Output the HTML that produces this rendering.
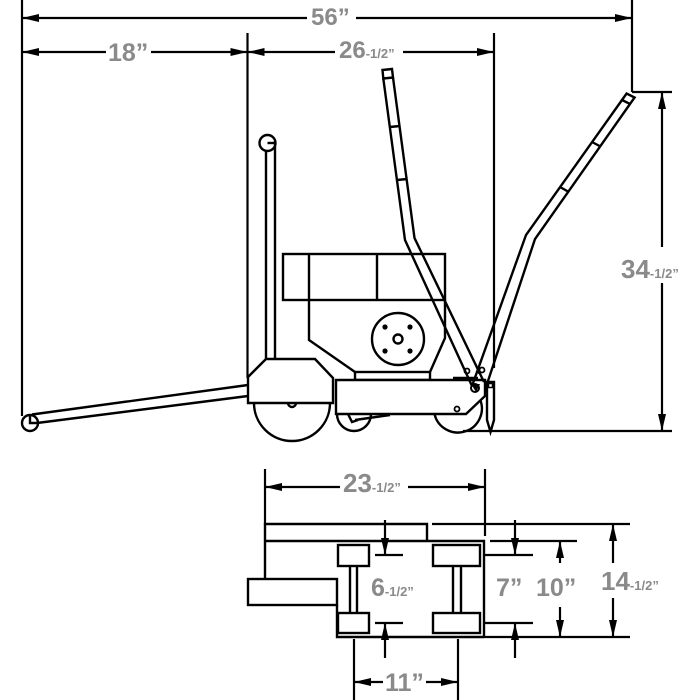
<!DOCTYPE html>
<html>
<head>
<meta charset="utf-8">
<style>
html,body{margin:0;padding:0;background:#fff;}
svg{display:block;}
text{font-family:"Liberation Sans",Arial,sans-serif;font-weight:bold;fill:#8a8a8a;}
</style>
</head>
<body>
<svg width="700" height="700" viewBox="0 0 700 700" xmlns="http://www.w3.org/2000/svg">
<rect width="700" height="700" fill="#fff"/>

<!-- ============ DIMENSIONS TOP VIEW (side elevation) ============ -->
<g stroke="#000" stroke-width="2.2" fill="none">
  <!-- extension lines -->
  <line x1="22" y1="0" x2="22" y2="416"/>
  <line x1="632" y1="0" x2="632" y2="92"/>
  <line x1="632" y1="92" x2="672" y2="92"/>
  <line x1="247.5" y1="33" x2="247.5" y2="378"/>
  <line x1="494" y1="33" x2="494" y2="368"/>
  <!-- 56 -->
  <line x1="22" y1="18" x2="307" y2="18"/>
  <line x1="356" y1="18" x2="632" y2="18"/>
  <!-- 18 -->
  <line x1="22" y1="52" x2="106" y2="52"/>
  <line x1="151" y1="52" x2="247.5" y2="52"/>
  <!-- 26-1/2 -->
  <line x1="247.5" y1="52" x2="335" y2="52"/>
  <line x1="403" y1="52" x2="494" y2="52"/>
  <!-- 34-1/2 -->
  <line x1="662" y1="92" x2="662" y2="247"/>
  <line x1="662" y1="283" x2="662" y2="431"/>
  <!-- ground -->
  <line x1="463" y1="431" x2="672" y2="431"/>
</g>
<g fill="#000">
  <!-- 56 arrows -->
  <polygon points="22,18 39,14 39,22"/>
  <polygon points="632,18 615,14 615,22"/>
  <!-- 18 arrows -->
  <polygon points="22,52 39,48 39,56"/>
  <polygon points="247.5,52 230.5,48 230.5,56"/>
  <!-- 26 arrows -->
  <polygon points="247.5,52 264.5,48 264.5,56"/>
  <polygon points="494,52 477,48 477,56"/>
  <!-- 34 arrows -->
  <polygon points="662,92 658,109 666,109"/>
  <polygon points="662,431 658,414 666,414"/>
</g>
<text x="311" y="25" font-size="24">56”</text>
<text x="108" y="61" font-size="25">18”</text>
<text x="339" y="58"><tspan font-size="24">26</tspan><tspan font-size="13">-1/2”</tspan></text>
<text x="621" y="278"><tspan font-size="26">34</tspan><tspan font-size="13">-1/2”</tspan></text>

<!-- ============ SIDE VIEW MACHINE ============ -->
<g stroke="#000" stroke-width="2.4" fill="none" stroke-linejoin="miter">
  <!-- tow bar -->
  <line x1="248" y1="385" x2="32" y2="414.5"/>
  <line x1="248" y1="396" x2="37" y2="423"/>
  <circle cx="30" cy="423" r="8"/>
  <polyline points="30,416 30,423 37,423"/>

  <!-- left post -->
  <circle cx="267.5" cy="143" r="8"/>
  <line x1="266" y1="151" x2="266" y2="359"/>
  <line x1="275" y1="141" x2="275" y2="359"/>
  <line x1="267.5" y1="143" x2="275" y2="143"/>

  <!-- wheel housing -->
  <polygon points="248,377 266,359 315,359 333,378 333,403 248,403" fill="#fff"/>
  <!-- big wheel -->
  <path d="M254,403 A38,38 0 0 0 330,403"/>
  <path d="M288,403 A4,4 0 0 0 296,403"/>

  <!-- engine top box -->
  <rect x="283" y="254" width="162" height="46"/>
  <line x1="309" y1="254" x2="309" y2="300"/>
  <line x1="377" y1="254" x2="377" y2="300"/>
  <!-- engine lower body -->
  <polyline points="309,300 309,340 355,372"/>
  <polyline points="445,300 445,338 430,372"/>
  <rect x="355" y="372" width="75" height="8"/>
  <!-- disc -->
  <circle cx="398" cy="339" r="26"/>
  <circle cx="398" cy="339" r="4.5"/>

  <!-- caster wheel -->
  <path d="M337,414 A17,17 0 1 0 371,414"/>
  <polyline points="348,414 352,422 358,420"/>
  <line x1="355" y1="420" x2="390" y2="415"/>

  <!-- right wheel -->
  <path d="M434.5,414 A24,24 0 1 0 480.3,400"/>

  <!-- main body -->
  <polygon points="336,380 485,380 485,396 466,414 336,414" fill="#fff"/>
  <circle cx="457" cy="409" r="2.5" stroke-width="1.8"/>

  <!-- kickstand -->
  <polygon points="487,382 494,382 494,420 490.5,432 487,420" fill="#fff"/>
  <rect x="488.5" y="383.5" width="4" height="4" stroke-width="1.5"/>

  <!-- handle 1 (middle) -->
  <polygon points="382.5,70 392,69 393,77.5 383.3,78.5" fill="#fff"/>
  <polyline points="383.3,78.5 405,240 472,386"/>
  <polyline points="393,77.5 414.5,238 484,382"/>
  <line x1="389.8" y1="127" x2="399.8" y2="126"/>
  <line x1="397" y1="180" x2="407.2" y2="179"/>

  <!-- handle 2 (right diagonal) -->
  <polygon points="622,100 626.6,93.5 634.6,97.5 630,104" fill="#fff"/>
  <polyline points="622,100 526,235 472,386"/>
  <polyline points="630,104 535,239 487,384"/>
  <line x1="592" y1="142" x2="600.5" y2="146.5"/>
  <line x1="560" y1="187" x2="568" y2="191.5"/>

  <!-- hinge details -->
  <line x1="453" y1="378" x2="478" y2="378"/>
  <circle cx="467" cy="371" r="2.5" stroke-width="1.8"/>
  <circle cx="482" cy="370" r="2.5" stroke-width="1.8"/>
  <circle cx="475" cy="388" r="4" stroke-width="2"/>
  <line x1="479" y1="366" x2="479" y2="374" stroke-width="1.8"/>
</g>
<g fill="#000">
  <circle cx="385" cy="327" r="2.6"/>
  <circle cx="410" cy="327" r="2.6"/>
  <circle cx="385" cy="351" r="2.6"/>
  <circle cx="410" cy="351" r="2.6"/>
  <polygon points="471,384 480,384 476,392"/>
</g>

<!-- ============ BOTTOM (plan) VIEW ============ -->
<g stroke="#000" stroke-width="2.4" fill="none">
  <polyline points="265,578 265,524 427,524 427,541"/>
  <polyline points="265,541 484,541 484,637"/>
  <rect x="248" y="579" width="89" height="26"/>
  <polyline points="337,605 337,637 484,637"/>
  <!-- wheels -->
  <rect x="338" y="545" width="31" height="21"/>
  <rect x="338" y="613" width="31" height="20"/>
  <rect x="433" y="545" width="47" height="21"/>
  <rect x="433" y="613" width="47" height="20"/>
  <!-- axles -->
  <line x1="350" y1="566" x2="350" y2="613"/>
  <line x1="357" y1="566" x2="357" y2="613"/>
  <line x1="453" y1="566" x2="453" y2="613"/>
  <line x1="461" y1="566" x2="461" y2="613"/>
</g>
<g stroke="#000" stroke-width="2.2" fill="none">
  <!-- 23-1/2 -->
  <line x1="265" y1="469" x2="265" y2="524"/>
  <line x1="485" y1="469" x2="485" y2="536"/>
  <line x1="265" y1="487" x2="340" y2="487"/>
  <line x1="408" y1="487" x2="485" y2="487"/>
  <!-- 14-1/2 ext -->
  <line x1="432" y1="524" x2="630" y2="524"/>
  <line x1="484" y1="637" x2="630" y2="637"/>
  <!-- 10 ext -->
  <line x1="490" y1="541" x2="577" y2="541"/>
  <!-- 6-1/2 -->
  <line x1="385" y1="520" x2="385" y2="555"/>
  <line x1="375" y1="555" x2="403" y2="555"/>
  <line x1="375" y1="623" x2="403" y2="623"/>
  <line x1="385" y1="623" x2="385" y2="658"/>
  <!-- 7 -->
  <line x1="515" y1="520" x2="515" y2="555"/>
  <line x1="485" y1="555" x2="533" y2="555"/>
  <line x1="485" y1="623" x2="533" y2="623"/>
  <line x1="515" y1="623" x2="515" y2="658"/>
  <!-- 10 -->
  <line x1="560" y1="541" x2="560" y2="563"/>
  <line x1="560" y1="607" x2="560" y2="637"/>
  <!-- 14-1/2 -->
  <line x1="613" y1="524" x2="613" y2="563"/>
  <line x1="613" y1="598" x2="613" y2="637"/>
  <!-- 11 -->
  <line x1="354" y1="639" x2="354" y2="700"/>
  <line x1="458" y1="639" x2="458" y2="700"/>
  <line x1="354" y1="682" x2="383" y2="682"/>
  <line x1="426" y1="682" x2="458" y2="682"/>
</g>
<g fill="#000">
  <polygon points="265,487 282,483 282,491"/>
  <polygon points="485,487 468,483 468,491"/>
  <polygon points="385,555 381,538 389,538"/>
  <polygon points="385,623 381,640 389,640"/>
  <polygon points="515,555 511,538 519,538"/>
  <polygon points="515,623 511,640 519,640"/>
  <polygon points="560,541 556,558 564,558"/>
  <polygon points="560,637 556,620 564,620"/>
  <polygon points="613,524 609,541 617,541"/>
  <polygon points="613,637 609,620 617,620"/>
  <polygon points="354,682 371,678 371,686"/>
  <polygon points="458,682 441,678 441,686"/>
</g>
<text x="343" y="492"><tspan font-size="26">23</tspan><tspan font-size="13">-1/2”</tspan></text>
<text x="371" y="596"><tspan font-size="25">6</tspan><tspan font-size="13">-1/2”</tspan></text>
<text x="496" y="596" font-size="25">7”</text>
<text x="536" y="596" font-size="25">10”</text>
<text x="601" y="590"><tspan font-size="26">14</tspan><tspan font-size="13">-1/2”</tspan></text>
<text x="385" y="691" font-size="25">11”</text>
</svg>
</body>
</html>
